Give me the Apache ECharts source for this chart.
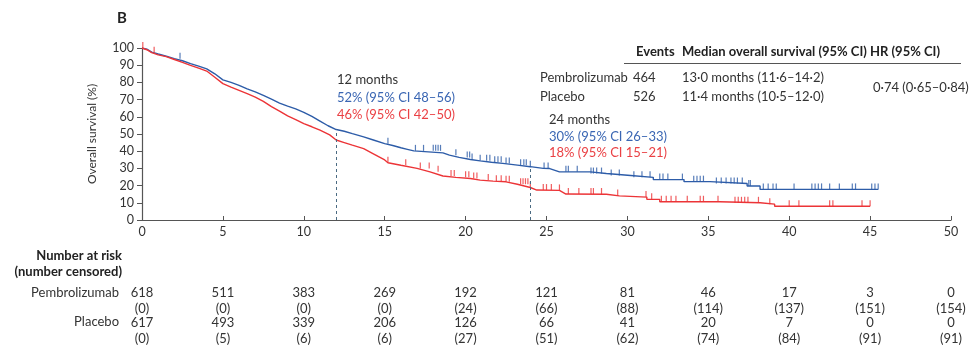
<!DOCTYPE html>
<html><head><meta charset="utf-8">
<script src="https://cdn.jsdelivr.net/npm/echarts@6/dist/echarts.min.js"></script>
<style>html,body{margin:0;padding:0;background:#fff}#c{width:970px;height:356px}</style>
</head><body><div id="c"></div>
<script>
// ---- data ----
const pembroCurve = [[0,100],[0.3,99.3],[0.6,97.6],[1,96.5],[1.5,95.2],[2,93.8],[2.5,92.6],[3,90.9],[3.5,89.5],[4,87.9],[4.5,85],[5,81.5],[5.5,80],[6,78.3],[6.5,76.2],[7,74.5],[7.5,72.4],[8,70.3],[8.5,68],[9,66.2],[9.5,64.6],[10,62.6],[10.5,60.2],[11,57.5],[11.5,54.8],[12,52.6],[12.5,51.6],[13,50.2],[13.7,48.3],[14.3,46.5],[15,44.4],[15.5,43.3],[16,42],[16.4,41.1],[16.8,40.2],[18.6,39],[19,37.7],[19.6,36.4],[20.3,35.2],[20.9,34.4],[21.6,33.6],[22.3,32.9],[23.2,31.9],[24,31],[24.8,30],[25.2,29.9],[25.8,28],[27.7,28],[27.7,27],[28.7,27],[28.7,25.9],[30.2,25.9],[30.2,24.8],[31.6,24.8],[31.6,23.5],[33.5,23.5],[33.5,22.3],[35.1,22.3],[35.1,21.2],[37.4,21.2],[37.4,19.8],[38.2,19.8],[38.2,17.8],[45.5,17.8]];
const placeboCurve = [[0,100],[0.3,99],[0.6,97.3],[1,96],[1.5,95],[2,93.3],[2.5,91.6],[3,89.9],[3.5,88.3],[4,86.6],[4.5,83],[5,79.3],[5.5,77.3],[6,75.4],[6.5,73.5],[7,71.5],[7.5,69],[8,65.9],[8.5,63.3],[9,60.5],[9.5,58.3],[10,56],[10.5,54.2],[11,52.2],[11.6,49.5],[12,46.5],[12.5,45],[13,43.5],[13.7,41.5],[14.3,38.5],[15,34.9],[15.2,33.3],[16,31.8],[17,30],[17.8,28],[18.6,25.6],[19.4,24.8],[20.3,24.1],[20.9,23.2],[21.7,22.6],[22.5,22.2],[23.2,20.8],[24,18.9],[24.4,17.4],[25.8,17.2],[26.2,15.1],[28.7,15.0],[28.7,14.2],[29.5,14.0],[29.6,13.4],[31.2,13.3],[31.2,12.0],[32,12.0],[32,10.6],[35.7,10.6],[35.7,10.0],[38.2,10.0],[38.2,9.2],[39.1,9.2],[39.1,8.0],[45,8.0]];
const pembroCensor = [2.35,15.2,16.9,17.4,18.0,18.15,18.3,18.45,19.4,20.1,20.25,20.4,20.9,21.3,21.5,21.8,22.0,22.2,22.5,22.7,23.4,23.6,23.75,24.0,24.85,25.1,26.2,26.35,26.9,27.75,27.9,28.1,28.4,29.0,29.5,30.4,30.9,31.4,32.0,32.2,32.5,33.4,34.1,34.3,34.5,34.7,35.5,35.8,36.1,36.4,36.6,36.8,37.1,37.5,37.6,38.4,38.7,39.0,39.2,40.3,41.4,41.6,41.8,42.0,42.5,43.1,43.9,44.1,45.1,45.3,45.5];
const placeboCensor = [0.05,0.75,15.2,16.3,17.2,17.75,18.3,19.1,19.3,20.0,20.2,20.5,20.7,21.4,21.9,22.2,22.5,22.7,23.4,23.55,23.7,23.85,24.0,24.8,25.0,25.3,25.8,26.35,27.0,27.75,27.9,28.4,29.4,31.15,31.5,32.1,32.4,32.7,33.0,33.7,34.5,34.7,35.6,36.65,36.85,37.05,37.25,37.45,38.1,38.8,40.0,40.6,42.5,42.7,44.5,45.0];
const xTicks = [0,5,10,15,20,25,30,35,40,45,50];
const pembroAtRisk = [618,511,383,269,192,121,81,46,17,3,0];
const pembroCensored = [0,0,0,0,24,66,88,114,137,151,154];
const placeboAtRisk = [617,493,339,206,126,66,41,20,7,0,0];
const placeboCensored = [0,5,6,6,27,51,62,74,84,91,91];
const groups = ['Pembrolizumab','Placebo'];
const events = [464,526];
const medians = ['13·0 months (11·6–14·2)','11·4 months (10·5–12·0)'];
const hazardRatio = '0·74 (0·65–0·84)';
const landmarks = [12,24];
const landmarkTitles = ['12 months','24 months'];
const landmarkPembro = ['52% (95% CI 48–56)','30% (95% CI 26–33)'];
const landmarkPlacebo = ['46% (95% CI 42–50)','18% (95% CI 15–21)'];

// ---- styles ----
const BLUE = '#2d5ca8', RED = '#ec3437', TXT = '#333', FONT = 'Lato';
function survAt(curve, t){ let s = curve[0][1]; for (const p of curve){ if (p[0] <= t) s = p[1]; else break; } return s; }
function censorData(curve, times){ return times.map(t => [t, survAt(curve, t)]); }

const chart = echarts.init(document.getElementById('c'), null, {renderer:'canvas'});
const gridL = 142, gridT = 48, gridR = 19, gridB = 136;
const censorSym = {type:'scatter', symbol:'rect', symbolSize:[1.2,6], symbolOffset:[0,-3], silent:true, z:3};
chart.setOption({
  animation:false,
  textStyle:{fontFamily:FONT},
  grid:{left:gridL, top:gridT, right:gridR, bottom:gridB},
  xAxis:{type:'value', min:0, max:50, interval:5,
    axisLine:{lineStyle:{color:'#555', width:1.2}},
    axisTick:{inside:true, length:4, lineStyle:{color:'#555'}},
    axisLabel:{color:TXT, fontSize:12.5, fontFamily:FONT, margin:5},
    splitLine:{show:false}},
  yAxis:{type:'value', min:0, max:100, interval:10,
    name:'Overall survival (%)', nameLocation:'middle', nameGap:44,
    nameTextStyle:{color:TXT, fontSize:12, fontFamily:FONT},
    axisLine:{show:true, lineStyle:{color:'#555', width:1.2}},
    axisTick:{show:true, length:5, lineStyle:{color:'#555'}},
    axisLabel:{color:TXT, fontSize:12.5, fontFamily:FONT, margin:8},
    splitLine:{show:false}},
  series:[
    {name:groups[0], type:'line', data:pembroCurve, showSymbol:false, lineStyle:{color:BLUE, width:1.4}, z:2,
      markLine:{symbol:'none', silent:true, label:{show:false},
        lineStyle:{type:[3,3], color:'#4a6a82', width:1},
        data: landmarks.map(t => [{coord:[t,0]},{coord:[t, survAt(pembroCurve, t)]}])}},
    {name:groups[1], type:'line', data:placeboCurve, showSymbol:false, lineStyle:{color:RED, width:1.4}, z:2},
    Object.assign({}, censorSym, {data:censorData(pembroCurve, pembroCensor), itemStyle:{color:BLUE}}),
    Object.assign({}, censorSym, {data:censorData(placeboCurve, placeboCensor), itemStyle:{color:RED}})
  ]
});

function txt(x, y, s, o){
  o = o || {};
  const st = {text:s, fill:o.color||TXT, font:(o.bold?'bold ':'')+(o.size||13)+'px '+FONT,
    textAlign:o.align||'left', textVerticalAlign:'middle', align:o.align||'left', verticalAlign:'middle'};
  return {type:'text', x:x, y:y, silent:true, style:st};
}
const g = [];
g.push(txt(117, 18, 'B', {bold:true, size:15, color:'#222'}));
// summary table
g.push(txt(636, 52, 'Events', {bold:true, color:'#222'}));
g.push(txt(682, 52, 'Median overall survival (95% CI)', {bold:true, color:'#222'}));
g.push(txt(870, 52, 'HR (95% CI)', {bold:true, color:'#222'}));
g.push({type:'line', silent:true, shape:{x1:624, y1:63.5, x2:961, y2:63.5}, style:{stroke:'#555', lineWidth:1}});
const rowY = [78, 97];
groups.forEach((gname, i) => {
  g.push(txt(540, rowY[i], gname));
  g.push(txt(633, rowY[i], String(events[i])));
  g.push(txt(682, rowY[i], medians[i]));
});
g.push(txt(873, 88, hazardRatio));
// landmark annotations
const annX = [337, 549], annY = [[80,98,115],[120,137,153]];
landmarks.forEach((t, i) => {
  g.push(txt(annX[i], annY[i][0], landmarkTitles[i]));
  g.push(txt(annX[i], annY[i][1], landmarkPembro[i], {color:'#3a66b3'}));
  g.push(txt(annX[i], annY[i][2], landmarkPlacebo[i], {color:'#ea4044'}));
});
// number at risk table
g.push(txt(122, 256, 'Number at risk', {bold:true, align:'right', color:'#222'}));
g.push(txt(122, 272, '(number censored)', {bold:true, align:'right', color:'#222'}));
g.push(txt(119, 293, groups[0], {align:'right'}));
g.push(txt(119, 322, groups[1], {align:'right'}));
const rY = [293, 309, 323, 339];
xTicks.forEach((t, i) => {
  const px = chart.convertToPixel({xAxisIndex:0}, t);
  g.push(txt(px, rY[0], String(pembroAtRisk[i]), {align:'center'}));
  g.push(txt(px, rY[1], '(' + pembroCensored[i] + ')', {align:'center'}));
  g.push(txt(px, rY[2], String(placeboAtRisk[i]), {align:'center'}));
  g.push(txt(px, rY[3], '(' + placeboCensored[i] + ')', {align:'center'}));
});
chart.setOption({graphic:{elements:g}});
</script>
</body></html>
